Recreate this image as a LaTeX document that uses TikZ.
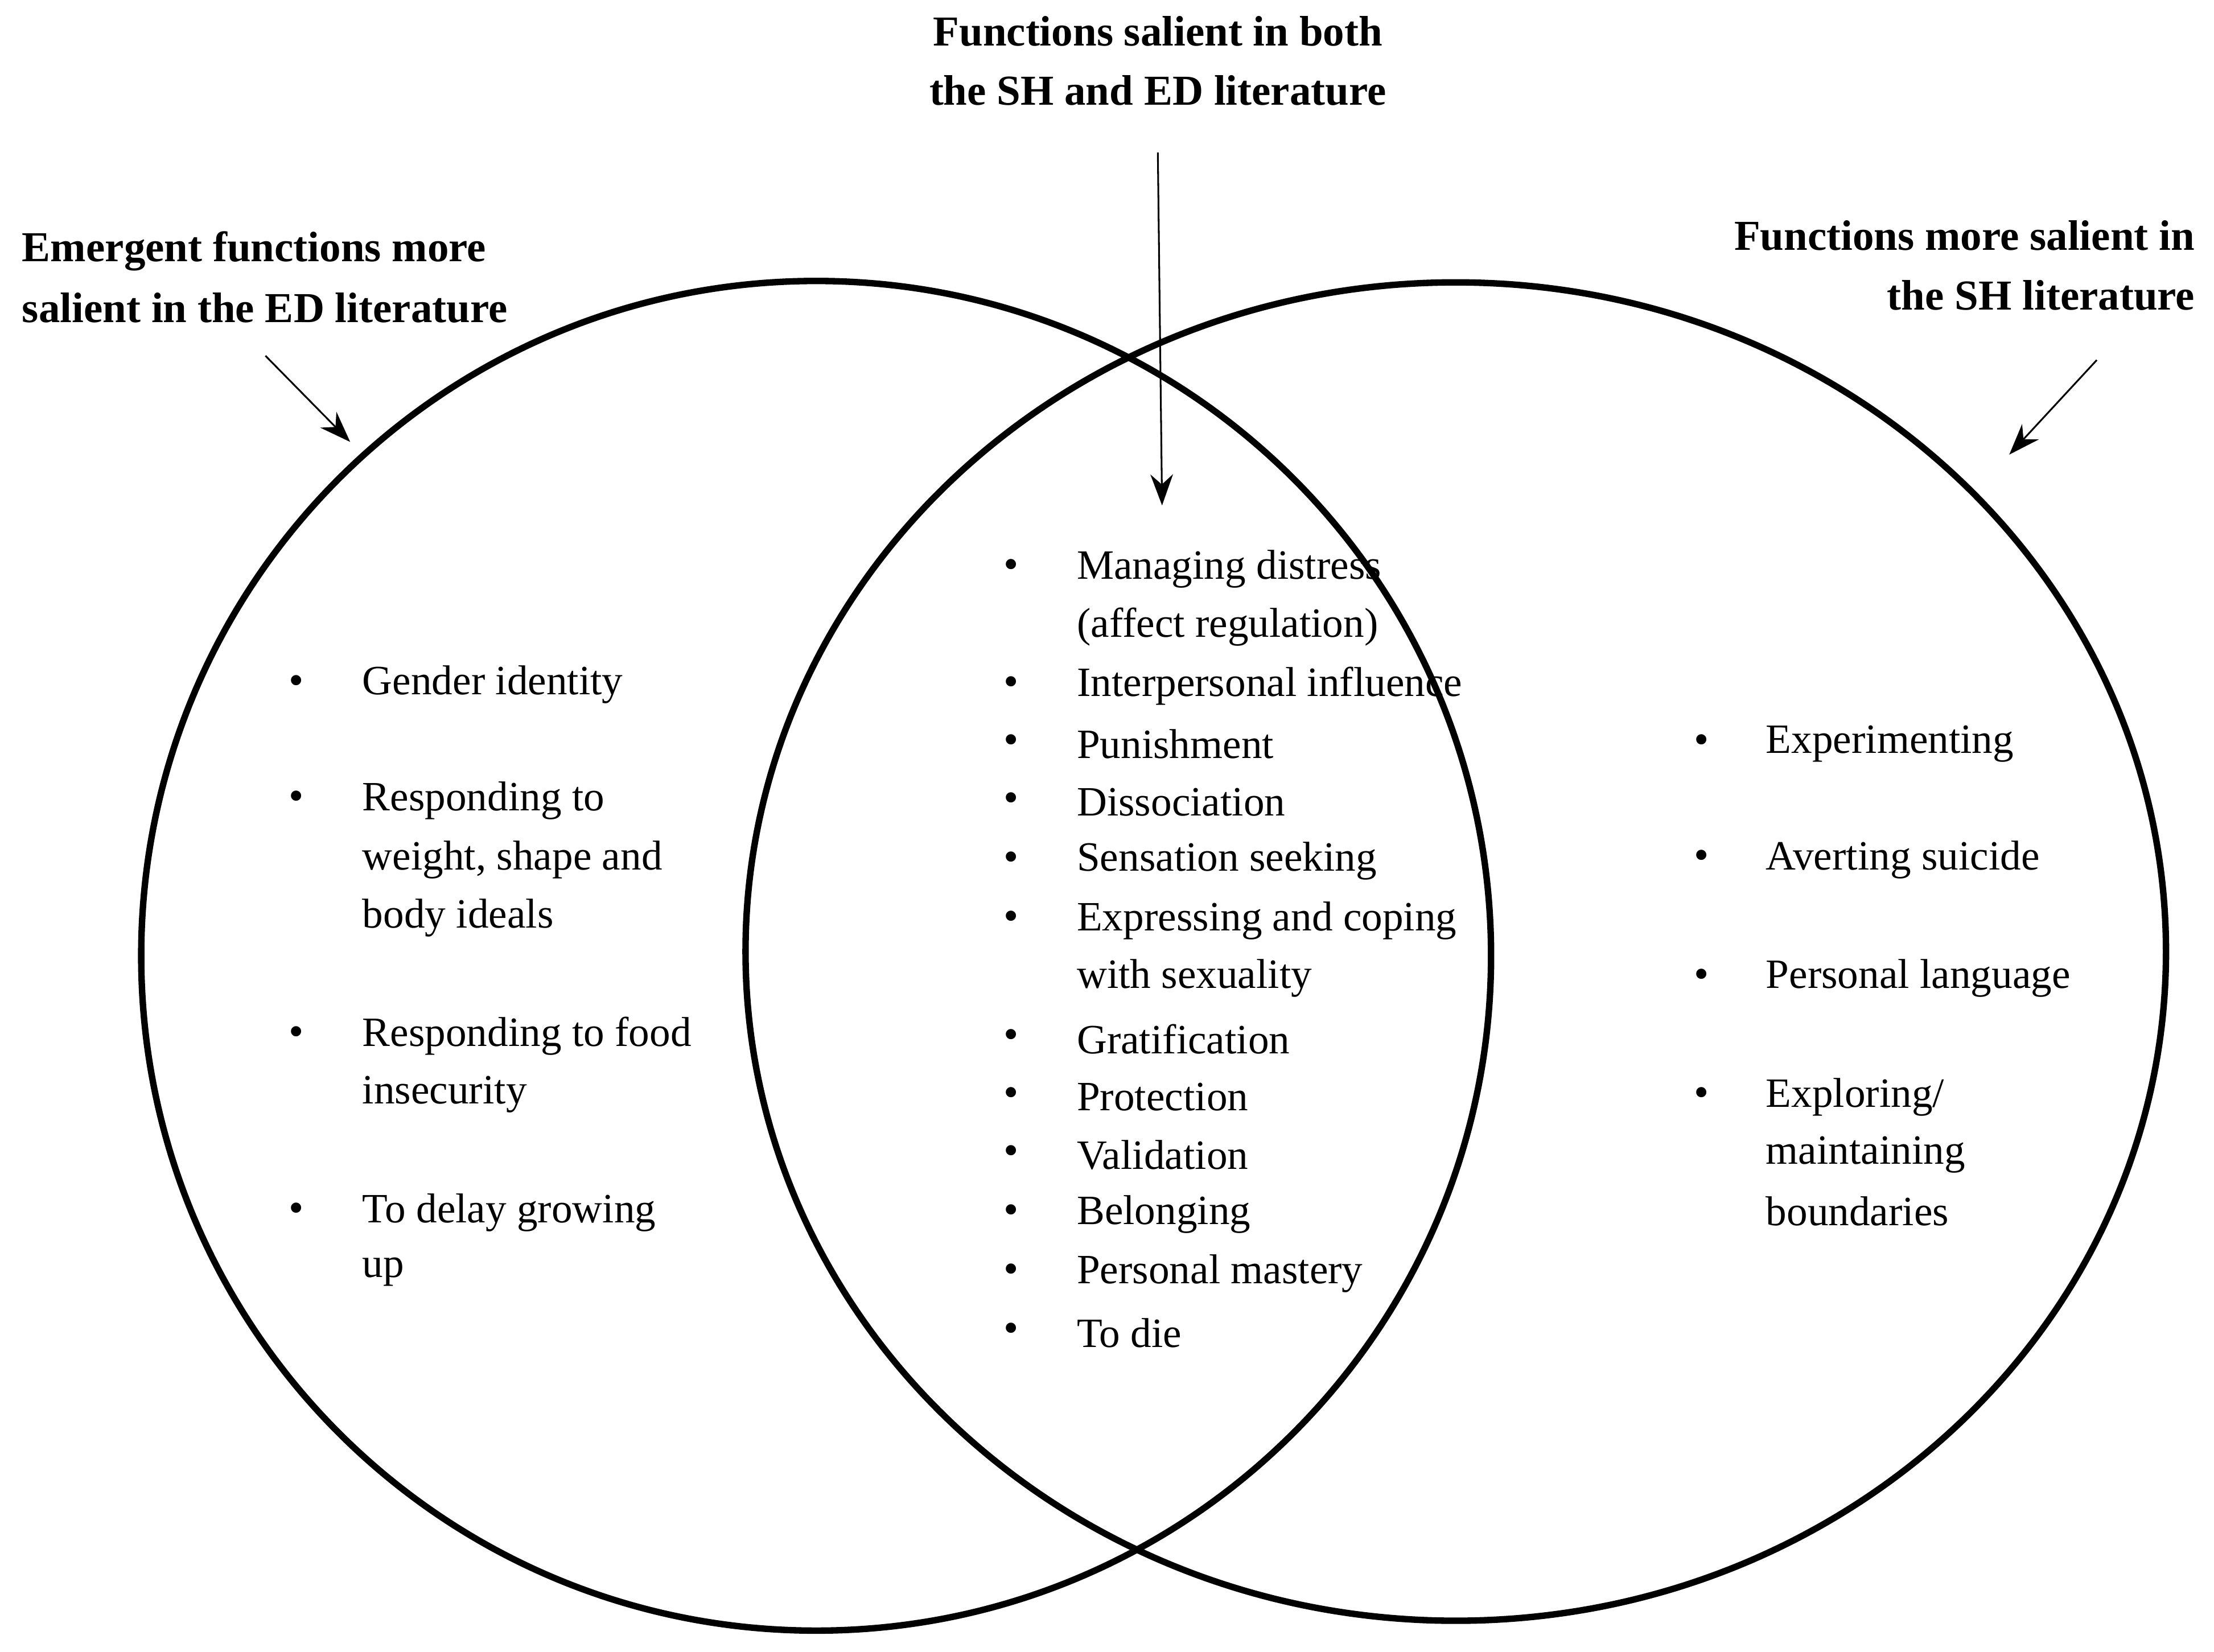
\documentclass[tikz,border=0pt]{standalone}
\usepackage{fontspec}
\setmainfont{Liberation Serif}
\usetikzlibrary{arrows.meta}
\begin{document}
\begin{tikzpicture}[x=0.1mm,y=-0.1mm,
  txt/.style={anchor=west,inner sep=0pt,font=\fontsize{8.4}{11}\selectfont},
  hd/.style={inner sep=0pt,font=\fontsize{8.6}{11}\selectfont\bfseries},
  bul/.style={inner sep=0pt,font=\fontsize{8.6}{11}\selectfont},
  arr/.style={-{Stealth[length=2.2mm,width=1.6mm]},line width=0.35pt},
  circ/.style={line width=1.3pt}]
\useasboundingbox (0,0) rectangle (1568,1170);
\draw[circ] (578,677) circle (478);
\draw[circ] (1031,674) ellipse [x radius=503, y radius=474];
% headers
\node[hd] (h1) at (820,22) {Functions salient in both};
\node[hd] (h2) at (820,64) {the SH and ED literature};
\node[hd,anchor=west] (l1) at (15,178) {Emergent functions more};
\node[hd,anchor=west] (l2) at (15,218) {salient in the ED literature};
\node[hd,anchor=east] (r1) at (1555,167) {Functions more salient in};
\node[hd,anchor=east] (r2) at (1555,209) {the SH literature};
\coordinate (a1s) at (820,108); \coordinate (a1e) at (823,358);
\coordinate (a2s) at (188,252); \coordinate (a2e) at (248,313);
\coordinate (a3s) at (1485,255); \coordinate (a3e) at (1423,322);
\draw[arr] (a1s) -- (a1e);
\draw[arr] (a2s) -- (a2e);
\draw[arr] (a3s) -- (a3e);
% lists
\foreach \y/\t/\b [count=\i] in {
 485/Gender identity/1, 567/Responding to/1, 609/{weight, shape and}/0, 650/body ideals/0,
 734/Responding to food/1, 775/insecurity/0, 859/To delay growing/1, 901/up/0}{
  \node[txt] (L\i) at (256,\y) {\t};
  \ifnum\b=1 \node[bul] (LB\i) at (210,\y) {\textbullet};\fi
}
\foreach \y/\t/\b [count=\i] in {
 403/Managing distress/1, 444/(affect regulation)/0, 486/Interpersonal influence/1,
 527/Punishment/1, 568/Dissociation/1, 610/Sensation seeking/1,
 652/Expressing and coping/1, 693/with sexuality/0, 736/Gratification/1,
 777/Protection/1, 818/Validation/1, 860/Belonging/1, 902/Personal mastery/1, 944/To die/1}{
  \node[txt] (M\i) at (762,\y) {\t};
  \ifnum\b=1 \node[bul] (MB\i) at (716,\y) {\textbullet};\fi
}
\foreach \y/\t/\b [count=\i] in {
 527/Experimenting/1, 609/Averting suicide/1, 693/Personal language/1,
 777/{Exploring/}/1, 818/maintaining/0, 858/boundaries/0}{
  \node[txt] (R\i) at (1250,\y) {\t};
  \ifnum\b=1 \node[bul] (RB\i) at (1205,\y) {\textbullet};\fi
}
\end{tikzpicture}
\end{document}
